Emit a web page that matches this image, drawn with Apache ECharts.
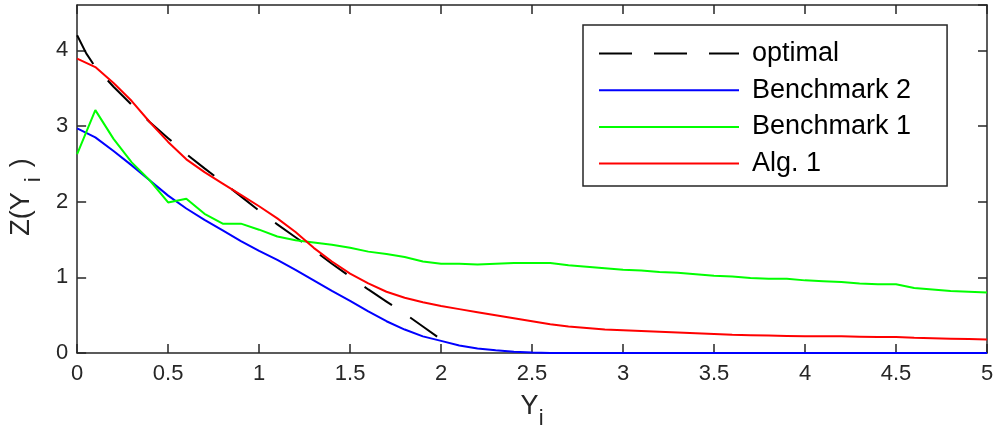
<!DOCTYPE html>
<html>
<head>
<meta charset="utf-8">
<script src="https://cdn.jsdelivr.net/npm/echarts@6/dist/echarts.min.js"></script>
<style>
html,body{margin:0;padding:0;background:#fff;}
#c{width:997px;height:435px;}
</style>
</head>
<body>
<div id="c"></div>
<script>
// ---- data ----
var xs = [0,0.1,0.2,0.3,0.4,0.5,0.6,0.7,0.8,0.9,1.0,1.1,1.2,1.3,1.4,1.5,1.6,1.7,1.8,1.9,2.0,
          2.1,2.2,2.3,2.4,2.5,2.6,2.7,2.8,2.9,3.0,3.1,3.2,3.3,3.4,3.5,3.6,3.7,3.8,3.9,4.0,
          4.1,4.2,4.3,4.4,4.5,4.6,4.7,4.8,4.9,5.0];

var optimalX = [0,0.05,0.1,0.2,0.3,0.4,0.5,0.6,0.7,0.8,0.9,1.0,1.1,1.2,1.3,1.4,1.5,1.6,1.7,1.8,1.9,2.0,2.03];
var optimalY = [4.2,3.96,3.78,3.52,3.28,3.05,2.84,2.63,2.44,2.26,2.07,1.88,1.70,1.53,1.36,1.18,1.01,0.84,0.68,0.52,0.35,0.18,0.14];

var benchmark2 = [2.97,2.85,2.67,2.48,2.28,2.08,1.91,1.76,1.62,1.48,1.35,1.23,1.10,0.96,0.82,0.69,0.55,0.42,0.31,0.22,0.16,
                  0.10,0.06,0.035,0.015,0.005,0,0,0,0,0,0,0,0,0,0,0,0,0,0,0,
                  0,0,0,0,0,0,0,0,0,0];

var benchmark1 = [2.63,3.21,2.83,2.52,2.28,1.99,2.04,1.84,1.71,1.71,1.63,1.54,1.49,1.46,1.43,1.39,1.34,1.31,1.27,1.21,1.18,
                  1.18,1.17,1.18,1.19,1.19,1.19,1.16,1.14,1.12,1.10,1.09,1.07,1.06,1.04,1.02,1.01,0.99,0.98,0.98,0.96,
                  0.95,0.94,0.92,0.91,0.91,0.86,0.84,0.82,0.81,0.80];

var alg1 = [3.89,3.78,3.57,3.33,3.05,2.79,2.56,2.39,2.24,2.09,1.94,1.78,1.60,1.39,1.21,1.05,0.92,0.81,0.73,0.67,0.62,
            0.58,0.54,0.50,0.46,0.42,0.38,0.35,0.33,0.31,0.30,0.29,0.28,0.27,0.26,0.25,0.24,0.235,0.23,0.225,0.22,
            0.22,0.22,0.215,0.21,0.21,0.20,0.195,0.19,0.185,0.18];

var seriesNames = ['optimal','Benchmark 2','Benchmark 1','Alg. 1'];

function pairs(xArr, yArr){ return xArr.map(function(x,i){ return [x, yArr[i]]; }); }

var AX = '#262626';
var FONT = '"Liberation Sans", Arial, Helvetica, sans-serif';

var axisCommon = {
  axisLine: {show: true, onZero: false, lineStyle: {color: AX, width: 1.5}},
  axisTick: {show: true, inside: true, length: 9, lineStyle: {color: AX, width: 1.5}},
  splitLine: {show: false}
};

var chart = echarts.init(document.getElementById('c'), null, {renderer: 'canvas'});
chart.setOption({
  animation: false,
  backgroundColor: '#fff',
  textStyle: {fontFamily: FONT},
  grid: {left: 75, right: 10, top: 5, bottom: 80, containLabel: false},
  legend: {
    orient: 'vertical',
    left: 583, top: 25,
    padding: [15, 36, 9, 15],
    itemGap: 9.7,
    itemWidth: 140, itemHeight: 14,
    borderColor: AX, borderWidth: 1.5, borderRadius: 0,
    backgroundColor: '#fff',
    itemStyle: {opacity: 0},
    textStyle: {fontFamily: FONT, fontSize: 27, color: '#000', lineHeight: 27, padding: [0,0,0,8]},
    data: seriesNames
  },
  xAxis: [
    Object.assign({
      type: 'value', position: 'bottom', min: 0, max: 5, interval: 0.5,
      axisLabel: {fontFamily: FONT, fontSize: 22, color: AX, margin: 10},
      name: '{m|Y}{s|i}', nameLocation: 'middle', nameGap: 40,
      nameTextStyle: {fontFamily: FONT, color: AX, rich: {
        m: {fontFamily: FONT, fontSize: 27, lineHeight: 27, color: AX, verticalAlign: 'top'},
        s: {fontFamily: FONT, fontSize: 22, lineHeight: 22, color: AX, verticalAlign: 'top', padding: [15, 0, 0, 0]}
      }}
    }, axisCommon),
    Object.assign({
      type: 'value', position: 'top', min: 0, max: 5, interval: 0.5,
      axisLabel: {show: false}
    }, axisCommon)
  ],
  yAxis: [
    Object.assign({
      type: 'value', position: 'left', min: 0, max: 4.6, interval: 1,
      axisLabel: {fontFamily: FONT, fontSize: 22, color: AX, margin: 9, showMaxLabel: false},
      name: '{m|Z(Y}{s|i}{m|)}', nameLocation: 'middle', nameGap: 40,
      nameTextStyle: {fontFamily: FONT, color: AX, padding: [0, 36, 0, 0], rich: {
        m: {fontFamily: FONT, fontSize: 27, lineHeight: 27, color: AX, verticalAlign: 'top'},
        s: {fontFamily: FONT, fontSize: 22, lineHeight: 22, color: AX, verticalAlign: 'top', padding: [15, 10, 0, 10]}
      }}
    }, axisCommon),
    Object.assign({
      type: 'value', position: 'right', min: 0, max: 4.6, interval: 1,
      axisLabel: {show: false}
    }, axisCommon)
  ],
  series: [
    {name: seriesNames[0], type: 'line', data: pairs(optimalX, optimalY), symbol: 'none', smooth: false,
     lineStyle: {color: '#000', width: 2, type: [33, 22]}, itemStyle: {color: '#000'}, z: 2},
    {name: seriesNames[1], type: 'line', data: pairs(xs, benchmark2), symbol: 'none', smooth: false,
     lineStyle: {color: '#0000ff', width: 2}, itemStyle: {color: '#0000ff'}, z: 3},
    {name: seriesNames[2], type: 'line', data: pairs(xs, benchmark1), symbol: 'none', smooth: false,
     lineStyle: {color: '#00ff00', width: 2}, itemStyle: {color: '#00ff00'}, z: 4},
    {name: seriesNames[3], type: 'line', data: pairs(xs, alg1), symbol: 'none', smooth: false,
     lineStyle: {color: '#ff0000', width: 2}, itemStyle: {color: '#ff0000'}, z: 5}
  ]
});
</script>
</body>
</html>
